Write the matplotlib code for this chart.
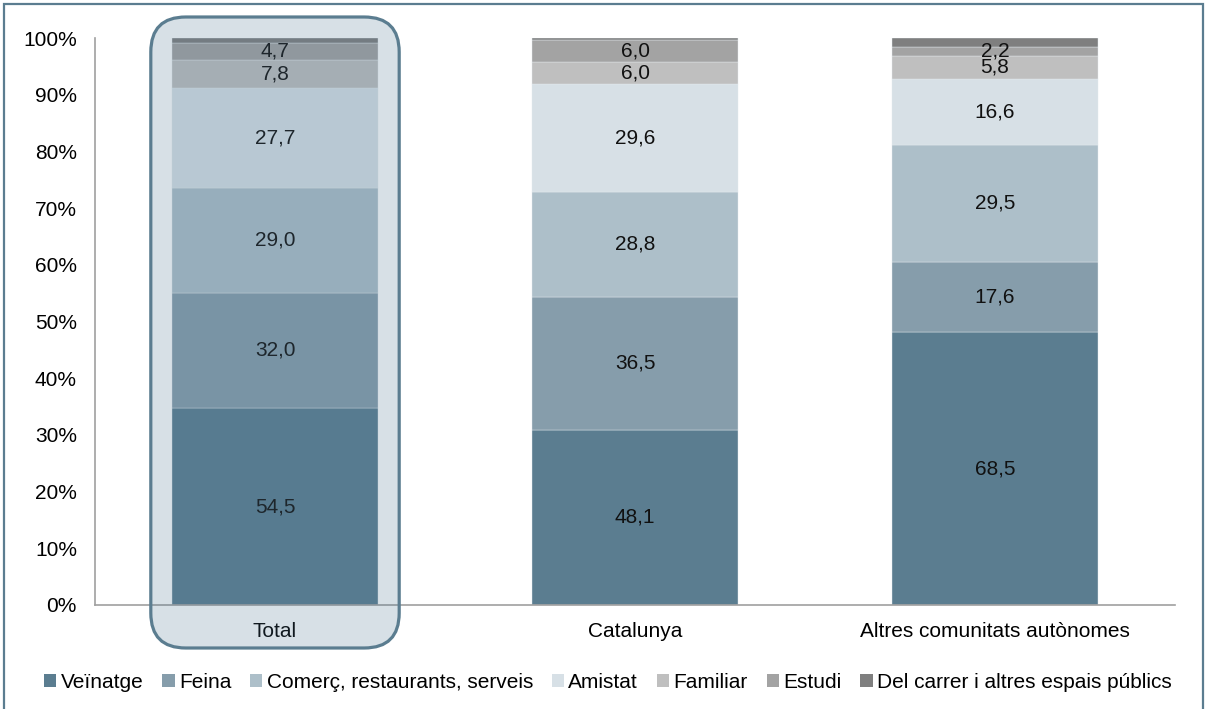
import matplotlib.pyplot as plt
import numpy as np
from matplotlib.patches import Patch, FancyBboxPatch, Rectangle
from matplotlib.transforms import IdentityTransform
from matplotlib.ticker import PercentFormatter

plt.rcParams['font.family'] = ['Liberation Sans', 'DejaVu Sans']

# data
groups = ['Total', 'Catalunya', 'Altres comunitats autònomes']
motius = ['Veïnatge', 'Feina', 'Comerç, restaurants, serveis', 'Amistat',
          'Familiar', 'Estudi', 'Del carrer i altres espais públics']
veinatge = [54.5, 48.1, 68.5]
feina = [32.0, 36.5, 17.6]
comerc = [29.0, 28.8, 29.5]
amistat = [27.7, 29.6, 16.6]
familiar = [7.8, 6.0, 5.8]
estudi = [4.7, 6.0, 2.2]
carrer = [1.3, 0.6, 2.2]   # not labelled in the original, estimated from heights
labelled = [True, True, True, True, True, True, False]

colors = ['#5b7d90', '#869dab', '#adbfc9', '#d7e0e6', '#bfbfbf', '#a3a3a3', '#7f7f7f']

vals = np.array([veinatge, feina, comerc, amistat, familiar, estudi, carrer])
shares = vals / vals.sum(axis=0)

fig = plt.figure(figsize=(12.06, 7.09), dpi=100)
ax = fig.add_axes([95/1206, 104/709, 1080/1206, 567/709])

x = np.arange(len(groups))
bottom = np.zeros(len(groups))
for i in range(len(motius)):
    ax.bar(x, shares[i], 0.57, bottom=bottom, color=colors[i],
           edgecolor='#e4eaee', linewidth=0.3, zorder=2)
    if labelled[i]:
        for j in range(len(groups)):
            ax.text(x[j], bottom[j] + shares[i][j]/2,
                    f'{vals[i][j]:.1f}'.replace('.', ','),
                    ha='center', va='center', fontsize=15, color='#111111', zorder=3)
    bottom += shares[i]

ax.set_xlim(-0.5, 2.5)
ax.set_ylim(0, 1)
ax.set_yticks(np.arange(0, 1.01, 0.1))
ax.yaxis.set_major_formatter(PercentFormatter(1.0, decimals=0))
ax.set_xticks(x)
ax.set_xticklabels(groups)
ax.tick_params(axis='y', length=0, pad=13, labelsize=15)
ax.tick_params(axis='x', length=0, pad=12, labelsize=15)
for s in ['top', 'right']:
    ax.spines[s].set_visible(False)
ax.spines['left'].set_color('#a0a0a0')
ax.spines['bottom'].set_color('#a0a0a0')
ax.spines['left'].set_linewidth(1.2)
ax.spines['bottom'].set_linewidth(1.2)

# highlight box around Total (pixel coords from data transform)
p0 = ax.transData.transform((x[0] - 0.345, 0))
p1 = ax.transData.transform((x[0] + 0.345, 1))
r = 35
x0, x1 = p0[0], p1[0]
y0, y1 = p0[1] - 43, p1[1] + 21
box = FancyBboxPatch((x0 + r, y0 + r), (x1 - x0) - 2*r, (y1 - y0) - 2*r,
                     boxstyle=f'round,pad={r}', transform=IdentityTransform(),
                     facecolor=(77/255, 117/255, 144/255, 0.22),
                     edgecolor='#5b7d90', linewidth=2.3, zorder=5)
fig.patches.append(box)

# outer frame
fig.patches.append(Rectangle((4/1206, -0.02), 1199/1206, 1.02 - 4/709,
                             transform=fig.transFigure, fill=False,
                             edgecolor='#5b7d90', linewidth=1.6))

handles = [Patch(facecolor=c) for c in colors]
fig.legend(handles, motius, loc='center', bbox_to_anchor=(0.504, 0.038), ncol=7,
           frameon=False, fontsize=15, handlelength=0.6, handleheight=0.6,
           handletextpad=0.2, columnspacing=0.9)

fig.savefig('out.png', dpi=100)
